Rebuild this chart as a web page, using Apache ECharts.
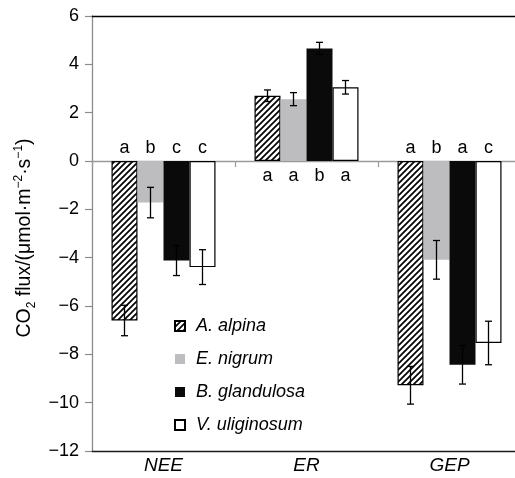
<!DOCTYPE html>
<html>
<head>
<meta charset="utf-8">
<script src="https://cdn.jsdelivr.net/npm/echarts@6/dist/echarts.min.js"></script>
<style>
  html, body { margin: 0; padding: 0; background: #fff; }
  #chart { width: 515px; height: 478px; }
</style>
</head>
<body>
<div id="chart"></div>
<script>
// Flux components and shrub species
const categories = ['NEE', 'ER', 'GEP'];
const speciesNames = ['A. alpina', 'E. nigrum', 'B. glandulosa', 'V. uliginosum'];

// Mean CO2 flux (µmol·m−2·s−1) per component: NEE, ER, GEP
const aAlpina = [-6.60, 2.70, -9.28];
const eNigrum = [-1.72, 2.56, -4.09];
const bGlandulosa = [-4.12, 4.66, -8.43];
const vUliginosum = [-4.39, 3.05, -7.53];

// Standard errors
const aAlpinaSE = [0.63, 0.24, 0.78];
const eNigrumSE = [0.63, 0.27, 0.80];
const bGlandulosaSE = [0.62, 0.25, 0.80];
const vUliginosumSE = [0.72, 0.28, 0.90];

// Significance letters
const aAlpinaLetters = ['a', 'a', 'a'];
const eNigrumLetters = ['b', 'a', 'b'];
const bGlandulosaLetters = ['c', 'b', 'a'];
const vUliginosumLetters = ['c', 'a', 'c'];

// Value axis
const yMin = -12, yMax = 6, yStep = 2;

const FONT = '"Liberation Sans", Arial, Helvetica, sans-serif';
const BAR_W = 26;

const means = [aAlpina, eNigrum, bGlandulosa, vUliginosum];
const errors = [aAlpinaSE, eNigrumSE, bGlandulosaSE, vUliginosumSE];
const letters = [aAlpinaLetters, eNigrumLetters, bGlandulosaLetters, vUliginosumLetters];

function hatchPattern() {
  const s = 6;
  const c = document.createElement('canvas');
  c.width = s; c.height = s;
  const g = c.getContext('2d');
  g.fillStyle = '#fff';
  g.fillRect(0, 0, s, s);
  g.strokeStyle = '#000';
  g.lineWidth = 1.7;
  g.beginPath();
  g.moveTo(-1, s + 1); g.lineTo(s + 1, -1);
  g.moveTo(-1, 1); g.lineTo(1, -1);
  g.moveTo(s - 1, s + 1); g.lineTo(s + 1, s - 1);
  g.stroke();
  return c;
}

const styles = [
  { color: { image: hatchPattern(), repeat: 'repeat' }, borderColor: '#000', borderWidth: 1.2 },
  { color: '#bdbdbf', borderWidth: 0 },
  { color: '#0a0a0a', borderColor: '#0a0a0a', borderWidth: 0 },
  { color: '#ffffff', borderColor: '#000', borderWidth: 1.2 }
];

const barSeries = speciesNames.map((name, i) => ({
  type: 'bar',
  name: name,
  data: means[i],
  barWidth: BAR_W,
  barGap: '0%',
  itemStyle: styles[i],
  emphasis: { disabled: true }
}));

// error bar items: [category, mean, se, species]
const errData = [];
const letterData = [];
means.forEach((arr, s) => {
  arr.forEach((v, c) => {
    errData.push([c, v, errors[s][c], s]);
    letterData.push([c, 0, s, v]);
  });
});

const errorSeries = {
  type: 'custom',
  name: 'se',
  data: errData,
  z: 5,
  silent: true,
  encode: { x: 0, y: 1 },
  renderItem: function (params, api) {
    const c = api.value(0), v = api.value(1), e = api.value(2), s = api.value(3);
    const x = api.coord([c, v])[0] + (s - 1.5) * BAR_W;
    const yHi = api.coord([c, v + e])[1];
    const yLo = api.coord([c, v - e])[1];
    const cap = 3.5;
    const st = { stroke: '#000', lineWidth: 1.3 };
    return {
      type: 'group',
      children: [
        { type: 'line', shape: { x1: x, y1: yHi, x2: x, y2: yLo }, style: st },
        { type: 'line', shape: { x1: x - cap, y1: yHi, x2: x + cap, y2: yHi }, style: st },
        { type: 'line', shape: { x1: x - cap, y1: yLo, x2: x + cap, y2: yLo }, style: st }
      ]
    };
  }
};

const letterSeries = {
  type: 'custom',
  name: 'letters',
  data: letterData,
  z: 6,
  silent: true,
  encode: { x: 0, y: 1 },
  renderItem: function (params, api) {
    const c = api.value(0), s = api.value(2), v = api.value(3);
    const p = api.coord([c, 0]);
    const x = p[0] + (s - 1.5) * BAR_W;
    const y = v < 0 ? p[1] - 13 : p[1] + 15;
    return {
      type: 'text',
      style: {
        text: letters[s][c],
        x: x, y: y,
        align: 'center', verticalAlign: 'middle',
        fontSize: 18, fontFamily: FONT, fill: '#000'
      }
    };
  }
};

const chart = echarts.init(document.getElementById('chart'), null, { renderer: 'canvas' });
chart.setOption({
  animation: false,
  backgroundColor: '#fff',
  grid: { left: 92, right: -6, top: 16, bottom: 27, containLabel: false, outerBoundsMode: 'none' },
  legend: {
    orient: 'vertical',
    left: 169, top: 312,
    itemWidth: 10, itemHeight: 10, itemGap: 15,
    icon: 'rect',
    selectedMode: false,
    data: speciesNames,
    textStyle: { fontStyle: 'italic', fontSize: 18, fontFamily: FONT, color: '#000', padding: [0, 0, 0, 6] }
  },
  xAxis: [
    {
      type: 'category', data: categories, position: 'bottom',
      axisLine: { onZero: false, lineStyle: { color: '#1a1a1a', width: 1.3 } },
      axisTick: { show: false },
      axisLabel: { fontStyle: 'italic', fontSize: 19, fontFamily: FONT, color: '#000', margin: 5 }
    },
    {
      type: 'category', data: categories, position: 'bottom',
      axisLine: { onZero: true, lineStyle: { color: '#9a9a9a', width: 1.3 } },
      axisTick: { show: true, length: 6, lineStyle: { color: '#9a9a9a', width: 1.2 } },
      axisLabel: { show: false }
    },
    {
      type: 'category', data: categories, position: 'top',
      axisLine: { lineStyle: { color: '#000', width: 1.3 } },
      axisTick: { show: false },
      axisLabel: { show: false }
    }
  ],
  yAxis: {
    type: 'value', min: yMin, max: yMax, interval: yStep,
    axisLine: { show: true, lineStyle: { color: '#8c8c8c', width: 1.3 } },
    axisTick: { show: true, length: 7, lineStyle: { color: '#8c8c8c', width: 1.2 } },
    splitLine: { show: false },
    axisLabel: {
      fontSize: 18, fontFamily: FONT, color: '#000', margin: 13,
      formatter: v => (v < 0 ? '\u2212' + Math.abs(v) : String(v))
    },
    name: '{n|CO}{sub|2}{n| flux/(\u03bcmol\u00b7m}{sup|\u22122}{n|\u00b7s}{sup|\u22121}{n|)}',
    nameLocation: 'middle',
    nameRotate: 90,
    nameGap: 53,
    nameTextStyle: {
      fontFamily: FONT, color: '#000',
      padding: [0, 9, 0, 0],
      rich: {
        n: { fontSize: 19.5, fontFamily: FONT, color: '#000', lineHeight: 25 },
        sub: { fontSize: 12, fontFamily: FONT, color: '#000', lineHeight: 14, verticalAlign: 'bottom' },
        sup: { fontSize: 12, fontFamily: FONT, color: '#000', lineHeight: 15, verticalAlign: 'top' }
      }
    }
  },
  series: barSeries.concat([errorSeries, letterSeries])
});
</script>
</body>
</html>
